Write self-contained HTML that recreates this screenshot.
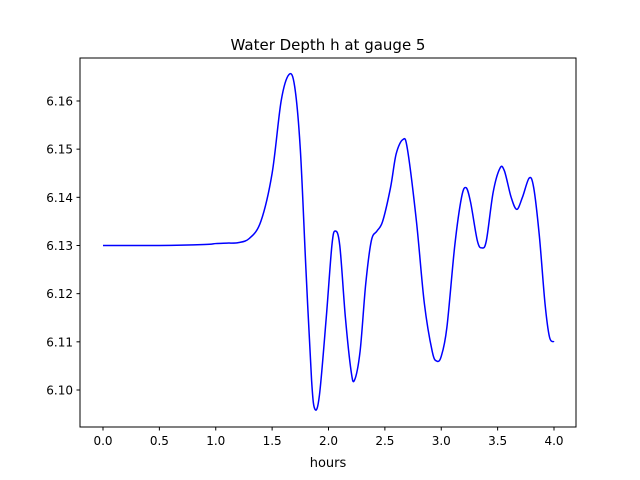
<!DOCTYPE html>
<html><head><meta charset="utf-8"><style>
body{margin:0;background:#fff;}
svg{display:block;font-family:"DejaVu Sans","Liberation Sans",sans-serif;}
</style></head><body>
<svg id="chart" width="640" height="480">
<rect width="640" height="480" fill="#fff"/>
<text x="328" y="50" font-size="15" text-anchor="middle">Water Depth h at gauge 5</text>
<g id="axes"></g>
<path id="line" fill="none" stroke="#0000ff" stroke-width="1.5"/>
<rect x="80" y="58" width="496" height="369" fill="none" stroke="#000" stroke-width="1"/>
<text x="328" y="467" font-size="13" text-anchor="middle">hours</text>
</svg>
<script>
const times=[0,0.5,0.9,1.0,1.1,1.2,1.3,1.4,1.5,1.58,1.65,1.7,1.75,1.8,1.85,1.88,1.92,1.98,2.03,2.06,2.1,2.15,2.2,2.23,2.28,2.33,2.38,2.43,2.48,2.55,2.6,2.66,2.7,2.78,2.85,2.92,2.96,3.0,3.05,3.12,3.18,3.22,3.26,3.32,3.36,3.4,3.46,3.52,3.56,3.62,3.67,3.72,3.78,3.82,3.87,3.92,3.96,4.0];
const depths=[6.130,6.130,6.1302,6.1304,6.1305,6.1306,6.1315,6.135,6.145,6.160,6.1655,6.163,6.150,6.125,6.102,6.096,6.099,6.115,6.130,6.133,6.130,6.115,6.104,6.102,6.108,6.122,6.131,6.133,6.135,6.142,6.149,6.152,6.150,6.135,6.118,6.108,6.106,6.107,6.113,6.130,6.140,6.142,6.139,6.131,6.1295,6.131,6.141,6.146,6.1455,6.140,6.1375,6.140,6.144,6.142,6.132,6.118,6.111,6.110];
const xTicks=[0,0.5,1,1.5,2,2.5,3,3.5,4];
const xTickLabels=["0.0","0.5","1.0","1.5","2.0","2.5","3.0","3.5","4.0"];
const yTicks=[6.10,6.11,6.12,6.13,6.14,6.15,6.16];
const yTickLabels=["6.10","6.11","6.12","6.13","6.14","6.15","6.16"];
const X=t=>103+t*112.75;
const Y=h=>390-(h-6.10)*4817;
const NS="http://www.w3.org/2000/svg";
const ax=document.getElementById('axes');
function mk(tag,attrs,txt){const e=document.createElementNS(NS,tag);for(const k in attrs)e.setAttribute(k,attrs[k]);if(txt!==undefined)e.textContent=txt;ax.appendChild(e);return e;}
xTicks.forEach((t,i)=>{
 const l=mk('line',{x1:X(t),x2:X(t),y1:427,y2:430.5,stroke:'#000'});
 
 
 const tx=mk('text',{x:X(t),y:445,'font-size':12,'text-anchor':'middle'},xTickLabels[i]);
 
 
});
yTicks.forEach((v,i)=>{
 const l=mk('line',{x1:76.5,x2:80,y1:Y(v),y2:Y(v),stroke:'#000'});
 
 
 const tx=mk('text',{x:73,y:Y(v)+4.5,'font-size':12,'text-anchor':'end'},yTickLabels[i]);
 
 
});
const pts=times.map((t,i)=>[X(t),Y(depths[i])]);
let d='M'+pts[0][0]+','+pts[0][1];
for(let i=0;i<pts.length-1;i++){
 const p0=pts[Math.max(0,i-1)],p1=pts[i],p2=pts[i+1],p3=pts[Math.min(pts.length-1,i+2)];
 const c1=[p1[0]+(p2[0]-p0[0])/6,p1[1]+(p2[1]-p0[1])/6];
 const c2=[p2[0]-(p3[0]-p1[0])/6,p2[1]-(p3[1]-p1[1])/6];
 d+=' C'+c1[0]+','+c1[1]+' '+c2[0]+','+c2[1]+' '+p2[0]+','+p2[1];
}
document.getElementById('line').setAttribute('d',d);
</script>
</body></html>
